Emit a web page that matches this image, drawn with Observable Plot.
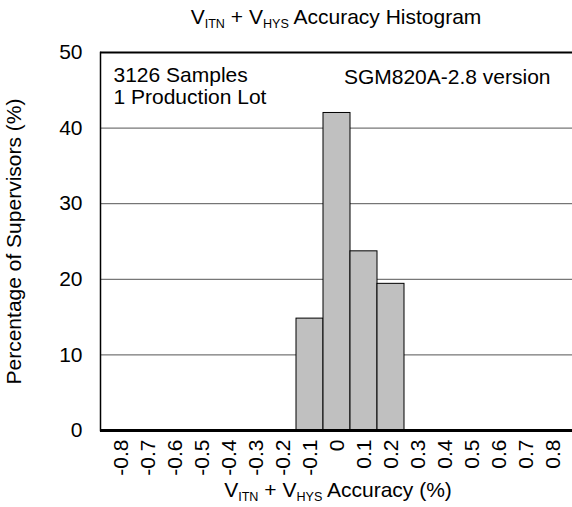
<!DOCTYPE html>
<html><head><meta charset="utf-8">
<script src="https://cdn.jsdelivr.net/npm/d3@7"></script>
<script src="https://cdn.jsdelivr.net/npm/@observablehq/plot@0.6"></script>
<style>
body{margin:0;background:#fff;font-family:"Liberation Sans",Arial,sans-serif;}
#wrap{position:relative;width:572px;height:507px;}
#wrap svg{position:absolute;left:0;top:0;}
.t{position:absolute;white-space:nowrap;color:#000;transform:translateX(-50%);line-height:21px;font-size:21px;z-index:2;}
.t sub{font-size:0.6em;vertical-align:baseline;position:relative;top:0.3em;}
</style></head><body>
<div id="wrap">
<div class="t" id="title" style="left:336px;top:6px;">V<sub>ITN</sub> + V<sub>HYS</sub> Accuracy Histogram</div>
<div class="t" id="xlab" style="left:338px;top:479px;">V<sub>ITN</sub> + V<sub>HYS</sub> Accuracy (%)</div>
</div>
<script>
const categories = ["-0.8","-0.7","-0.6","-0.5","-0.4","-0.3","-0.2","-0.1","0","0.1","0.2","0.3","0.4","0.5","0.6","0.7","0.8"];
const bins = ["-0.1","0","0.1","0.2"];
const percentages = [14.8, 42.0, 23.7, 19.4];
const yTicks = [0, 10, 20, 30, 40, 50];
const gridValues = [10, 20, 30, 40];
const notesLeft = ["3126 Samples", "1 Production Lot"];
const noteRight = "SGM820A-2.8 version";
const yLabel = "Percentage of Supervisors (%)";

const data = bins.map((b, i) => ({bin: b, pct: percentages[i]}));

const chart = Plot.plot({
  width: 572,
  height: 507,
  marginLeft: 100,
  marginRight: 0,
  marginTop: 52,
  marginBottom: 77,
  style: {fontFamily: "'Liberation Sans', Arial, sans-serif", fontSize: "21px", color: "#000", background: "transparent"},
  x: {type: "band", domain: categories, padding: 0},
  y: {domain: [0, 50]},
  marks: [
    Plot.ruleY(gridValues, {stroke: "#555", strokeWidth: 1}),
    Plot.barY(data, {x: "bin", y: "pct", fill: "#c0c0c0", stroke: "#000", strokeWidth: 1}),
    Plot.ruleY([50], {stroke: "#000", strokeWidth: 2}),
    Plot.ruleY([0], {stroke: "#000", strokeWidth: 3}),
    Plot.frame({anchor: "left", stroke: "#000", strokeWidth: 1.5}),
    Plot.axisY({ticks: yTicks, tickSize: 0, tickPadding: 18, fontSize: 21, label: yLabel, labelArrow: "none", labelAnchor: "center", labelOffset: 94}),
    Plot.axisX({tickRotate: -90, tickSize: 0, tickPadding: 9, fontSize: 21, label: null}),
    Plot.text([notesLeft.join("\n")], {text: d => d, frameAnchor: "top-left", dx: 13, dy: 14, lineAnchor: "top", lineHeight: 1.05, textAnchor: "start", fontSize: 21}),
    Plot.text([noteRight], {text: d => d, frameAnchor: "top-right", dx: -22, dy: 17, lineAnchor: "top", textAnchor: "end", fontSize: 21})
  ]
});
document.getElementById("wrap").appendChild(chart);
</script>
</body></html>
